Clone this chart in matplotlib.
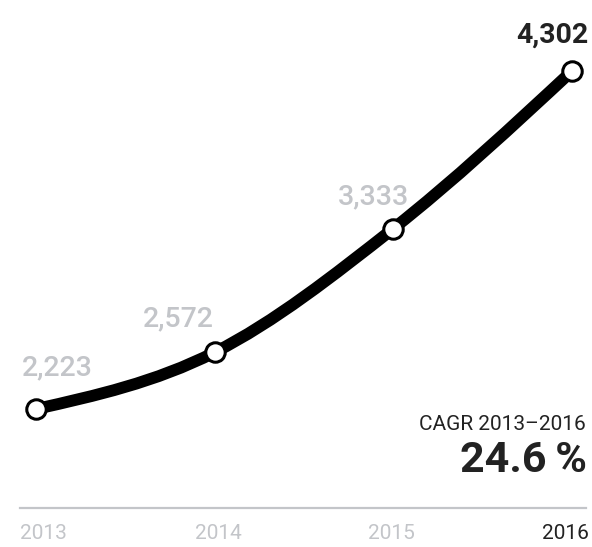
import matplotlib

matplotlib.use("Agg")
import matplotlib.pyplot as plt
from matplotlib.path import Path
from matplotlib.patches import PathPatch
import numpy as np

years = ["2013", "2014", "2015", "2016"]
values = [2223, 2572, 3333, 4302]
value_labels = ["2,223", "2,572", "3,333", "4,302"]
cagr_label = "CAGR 2013\u20132016"
cagr_value = "24.6\u2009%"

W, H = 592, 547
GRAY = "#c3c5c9"
DARK = "#222222"
FONT = ["Roboto", "DejaVu Sans"]


def monotone_path(xs, ys):
    # monotone cubic (d3 curveMonotoneX style) as bezier segments
    xs = np.asarray(xs, float)
    ys = np.asarray(ys, float)
    h = np.diff(xs)
    s = np.diff(ys) / h
    t = np.zeros(len(xs))
    for i in range(1, len(xs) - 1):
        p = (s[i - 1] * h[i] + s[i] * h[i - 1]) / (h[i - 1] + h[i])
        t[i] = (np.sign(s[i - 1]) + np.sign(s[i])) * min(abs(s[i - 1]), abs(s[i]), 0.5 * abs(p))
    t[0] = (3 * s[0] - t[1]) / 2
    t[-1] = (3 * s[-1] - t[-2]) / 2
    verts = [(xs[0], ys[0])]
    codes = [Path.MOVETO]
    for i in range(len(xs) - 1):
        dx = h[i] / 3
        verts += [(xs[i] + dx, ys[i] + dx * t[i]),
                  (xs[i + 1] - dx, ys[i + 1] - dx * t[i + 1]),
                  (xs[i + 1], ys[i + 1])]
        codes += [Path.CURVE4] * 3
    return Path(verts, codes)


fig = plt.figure(figsize=(W / 100, H / 100), dpi=100)
ax = fig.add_axes([0, 0, 1, 1])
ax.axis("off")

x = np.arange(len(values))
# map so points land where they are in the reference
px_per_x = (572 - 36) / 3
px_per_v = (409 - 71) / (values[-1] - values[0])
ax.set_xlim(-36 / px_per_x, (W - 36) / px_per_x)
ax.set_ylim(values[0] - (H - 409) / px_per_v, values[0] + 409 / px_per_v)

ax.add_patch(PathPatch(monotone_path(x, values), facecolor="none", edgecolor="black",
                       lw=8.5, capstyle="round", joinstyle="round", zorder=2))
ax.plot(x, values, "o", ms=14, mfc="white", mec="black", mew=2.2, zorder=3)

# value labels
offsets = [(-14, 34, "left"), (-1, 26, "right"), (16, 24, "right"), (16, 28, "right")]
for i, (dx, dy, ha) in enumerate(offsets):
    last = i == len(values) - 1
    ax.annotate(value_labels[i], (x[i], values[i]), xytext=(dx, dy), textcoords="offset pixels",
                ha=ha, va="baseline", fontsize=20.5, family=FONT,
                color=DARK if last else GRAY, fontweight="bold" if last else "medium")

# baseline axis line
fig.add_artist(plt.Line2D([20 / W, 586 / W], [1 - 507.5 / H, 1 - 507.5 / H], color=GRAY, lw=1.6))

# year labels
year_pos = [20, 195, 368, 542]
for i, px in enumerate(year_pos):
    last = i == len(years) - 1
    fig.text(px / W, 1 - 539 / H, years[i], ha="left", va="baseline", fontsize=15, family=FONT,
             color=DARK if last else GRAY)

# CAGR note
fig.text(586 / W, 1 - 430 / H, cagr_label, ha="right", va="baseline", fontsize=15,
         family=FONT, color=DARK)
fig.text(587 / W, 1 - 472 / H, cagr_value, ha="right", va="baseline", fontsize=31,
         family=FONT, color=DARK, fontweight="bold")

fig.savefig("out.png", dpi=100)
